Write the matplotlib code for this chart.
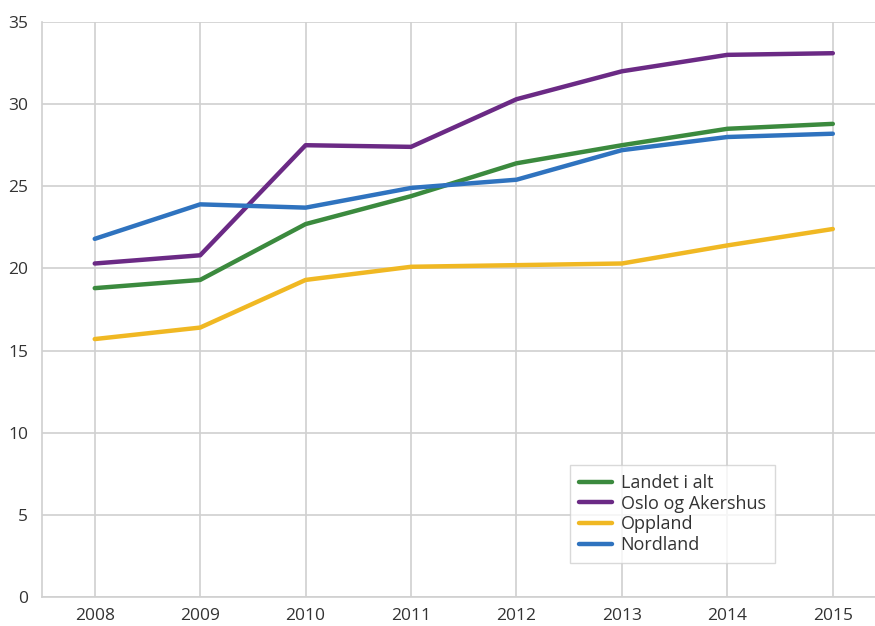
import matplotlib
matplotlib.use('Agg')
import matplotlib.pyplot as plt

plt.rcParams['font.family'] = ['Open Sans', 'DejaVu Sans']

years = [2008, 2009, 2010, 2011, 2012, 2013, 2014, 2015]
landet = [18.8, 19.3, 22.7, 24.4, 26.4, 27.5, 28.5, 28.8]
oslo = [20.3, 20.8, 27.5, 27.4, 30.3, 32.0, 33.0, 33.1]
oppland = [15.7, 16.4, 19.3, 20.1, 20.2, 20.3, 21.4, 22.4]
nordland = [21.8, 23.9, 23.7, 24.9, 25.4, 27.2, 28.0, 28.2]

series = [
    ('Landet i alt', landet, '#3b8a3e'),
    ('Oslo og Akershus', oslo, '#6b2a85'),
    ('Oppland', oppland, '#f0b823'),
    ('Nordland', nordland, '#2f73bf'),
]

fig = plt.figure(figsize=(8.75, 6.26), dpi=100)
ax = fig.add_axes([42 / 875, 29 / 626, 833 / 875, 575 / 626])

for name, vals, col in series:
    ax.plot(years, vals, color=col, lw=3.2, label=name, solid_capstyle='round')

ax.set_xlim(2007.5, 2015.4)
ax.set_ylim(0, 35)
ax.set_xticks(years)
ax.set_yticks(range(0, 36, 5))
ax.grid(True, color='#d0d0d0', lw=1.2)
ax.set_axisbelow(True)
for s in ['top', 'right']:
    ax.spines[s].set_visible(False)
for s in ['left', 'bottom']:
    ax.spines[s].set_color('#d0d0d0')
    ax.spines[s].set_linewidth(1.2)
ax.tick_params(length=0, labelsize=12.5, colors='#333333', pad=8)
ax.tick_params(axis='y', pad=10)

leg = ax.legend(loc='lower left', bbox_to_anchor=(528 / 833, 34 / 575), borderaxespad=0,
                fontsize=13, frameon=True, fancybox=False, edgecolor='#d0d0d0',
                handlelength=1.8, labelspacing=0.15, borderpad=0.5, handletextpad=0.5)
for t in leg.get_texts():
    t.set_color('#333333')

fig.savefig('out.png', dpi=100)
